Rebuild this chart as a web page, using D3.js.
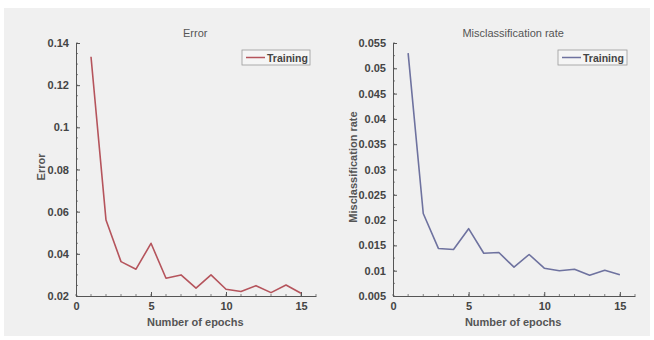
<!DOCTYPE html>
<html>
<head>
<meta charset="utf-8">
<script src="https://cdn.jsdelivr.net/npm/d3@7"></script>
<style>
  body { margin: 0; background: #fff; }
  svg { display: block; font-family: "Liberation Sans", Arial, sans-serif; }
</style>
</head>
<body>
<svg id="chart"></svg>
<script>
// data
const epochs = d3.range(1, 16);
const errorValues = [0.1335, 0.056, 0.0363, 0.0327, 0.045, 0.0284, 0.030, 0.0237,
  0.030, 0.0232, 0.0221, 0.0249, 0.0216, 0.0252, 0.0213];
const misclassValues = [0.053, 0.0213, 0.0144, 0.0142, 0.0183, 0.01345, 0.0136, 0.0107,
  0.0132, 0.0105, 0.0100, 0.0103, 0.0091, 0.0101, 0.0092];
const errorTicks = [0.02, 0.04, 0.06, 0.08, 0.1, 0.12, 0.14];
const misclassTicks = [0.005, 0.01, 0.015, 0.02, 0.025, 0.03, 0.035, 0.04, 0.045, 0.05, 0.055];
const xTicks = [0, 5, 10, 15];

const W = 654, H = 340;
const svg = d3.select("#chart").attr("width", W).attr("height", H);

svg.append("rect")
  .attr("x", 4).attr("y", 8)
  .attr("width", 646).attr("height", 328)
  .attr("fill", "#f0f0f0");

function panel(opts) {
  const x = d3.scaleLinear().domain([0, 16]).range([opts.left, opts.right]);
  const y = d3.scaleLinear().domain(opts.yDomain).range([296, 43]);
  const g = svg.append("g");

  // minor ticks
  const xMinor = d3.range(0, 17, 1);
  g.append("g").selectAll("line").data(xMinor).join("line")
    .attr("x1", d => x(d)).attr("x2", d => x(d))
    .attr("y1", 296).attr("y2", 294)
    .attr("stroke", "#666").attr("stroke-width", 0.8);
  const yMinor = d3.range(opts.yDomain[0], opts.yDomain[1] + 1e-9, opts.minorStep);
  g.append("g").selectAll("line").data(yMinor).join("line")
    .attr("x1", opts.left).attr("x2", opts.left + 2)
    .attr("y1", d => y(d)).attr("y2", d => y(d))
    .attr("stroke", "#666").attr("stroke-width", 0.8);

  const xAxis = d3.axisBottom(x).tickValues(xTicks).tickSizeInner(-4).tickSizeOuter(0).tickPadding(6);
  const yAxis = d3.axisLeft(y).tickValues(opts.yTicks).tickSizeInner(-4).tickSizeOuter(0)
    .tickPadding(7).tickFormat(d => d3.format("")(+d.toFixed(3)));

  const gx = g.append("g").attr("transform", "translate(0,296)").call(xAxis);
  const gy = g.append("g").attr("transform", `translate(${opts.left},0)`).call(yAxis);
  [gx, gy].forEach(a => {
    a.select(".domain").attr("stroke", "#555").attr("stroke-width", 1);
    a.selectAll(".tick line").attr("stroke", "#555");
    a.selectAll(".tick text")
      .attr("fill", "#444").attr("font-size", 11).attr("font-weight", "bold");
  });

  const line = d3.line().x((d, i) => x(epochs[i])).y(d => y(d));
  g.append("path")
    .datum(opts.values)
    .attr("d", line)
    .attr("fill", "none")
    .attr("stroke", opts.color)
    .attr("stroke-width", 1.6)
    .attr("stroke-linejoin", "round");

  const cx = (opts.left + x(15.1)) / 2 + 6;
  g.append("text")
    .attr("x", cx).attr("y", 37)
    .attr("text-anchor", "middle")
    .attr("font-size", 11).attr("fill", "#555")
    .text(opts.title);

  g.append("text")
    .attr("x", cx).attr("y", 326)
    .attr("text-anchor", "middle")
    .attr("font-size", 11).attr("font-weight", "bold").attr("fill", "#555")
    .text("Number of epochs");

  g.append("text")
    .attr("transform", `translate(${opts.yLabelX},167) rotate(-90)`)
    .attr("text-anchor", "middle")
    .attr("font-size", 11).attr("font-weight", "bold").attr("fill", "#555")
    .text(opts.yLabel);

  // legend
  const lg = g.append("g").attr("transform", `translate(${opts.legendX},50)`);
  lg.append("rect")
    .attr("width", opts.legendW).attr("height", 15)
    .attr("fill", "#f5f5f5").attr("stroke", "#999").attr("stroke-width", 0.8);
  lg.append("line")
    .attr("x1", 4).attr("x2", 23).attr("y1", 7.5).attr("y2", 7.5)
    .attr("stroke", opts.color).attr("stroke-width", 1.5);
  lg.append("text")
    .attr("x", 25).attr("y", 11.5)
    .attr("font-size", 10.5).attr("font-weight", "bold").attr("fill", "#444")
    .text("Training");
}

panel({
  left: 76, right: 316,
  yDomain: [0.02, 0.14], yTicks: errorTicks, minorStep: 0.005,
  values: errorValues, color: "#b5545c",
  title: "Error", yLabel: "Error", yLabelX: 45,
  legendX: 242, legendW: 68
});

panel({
  left: 393, right: 635,
  yDomain: [0.005, 0.055], yTicks: misclassTicks, minorStep: 0.0025,
  values: misclassValues, color: "#6e729f",
  title: "Misclassification rate", yLabel: "Misclassification rate", yLabelX: 357,
  legendX: 558, legendW: 69
});
</script>
</body>
</html>
